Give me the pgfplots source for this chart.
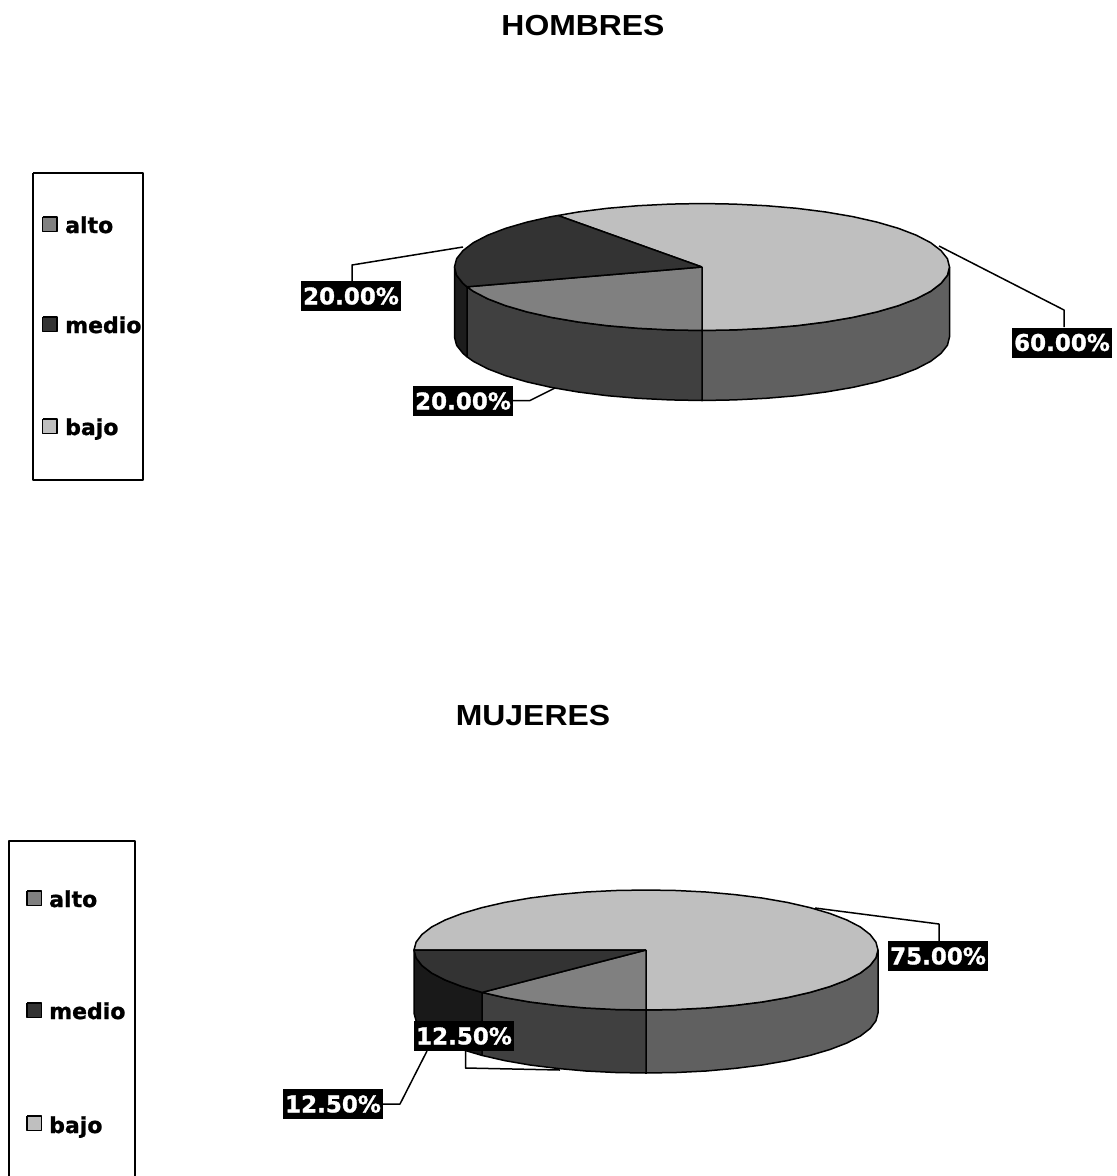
\documentclass[border=0pt]{standalone}
\usepackage{pgfplots}
\pgfplotsset{compat=1.18}
\usepackage{fontspec}
\setmainfont{DejaVu Sans}
\newfontfamily\titlefont[FakeStretch=1.1]{Liberation Sans}
\newfontfamily\heavyfont[FakeBold=1.2]{DejaVu Sans Bold}
\definecolor{sliceBajo}{HTML}{BFBFBF}
\definecolor{sliceMedio}{HTML}{333333}
\definecolor{sliceAlto}{HTML}{808080}
\definecolor{sideBajo}{HTML}{606060}
\definecolor{sideAlto}{HTML}{404040}
\definecolor{sideMedio}{HTML}{1C1C1C}
\tikzset{
  valuelabel/.style={fill=black, text=white, font=\fontsize{23}{23}\selectfont\heavyfont,
    minimum width=100pt, minimum height=30pt, inner sep=0pt},
  legendtext/.style={anchor=west, inner sep=0pt, text height=18pt, text depth=0pt,
    font=\fontsize{22}{22}\selectfont\heavyfont},
  charttitle/.style={font=\fontsize{29}{30}\selectfont\titlefont\bfseries},
}
\begin{document}
\begin{tikzpicture}
\useasboundingbox (0,0) rectangle (1117pt,1176pt);
\begin{axis}[
  scale only axis, width=1117pt, height=1176pt,
  xmin=0, xmax=1117, ymin=0, ymax=1176, y dir=reverse,
  hide axis, clip=false,
  every axis plot/.append style={line width=1.5pt, line join=round},
  cycle list={{draw=black, solid, mark=none}},
]

% ---- HOMBRES: leader lines
\addplot+[] coordinates {(463,247) (352,265) (352,281)};
\addplot+[] coordinates {(513,400.5) (530,400.5) (555,388)};
\addplot+[] coordinates {(939,246) (1064,310) (1064,327)};

% HOMBRES: rim of the disc
\addplot+[fill=sideBajo] coordinates {
 (702,330.5) (734.3,329.9) (766,328.3) (796.7,325.7) (825.8,322) (852.7,317.4) (877,311.9) (898.3,305.7)
 (916.3,298.8) (930.7,291.3) (941,283.4) (947.4,275.3) (949.5,267)
 (949.5,337) (947.4,345.3) (941,353.4) (930.7,361.3) (916.3,368.8) (898.3,375.7) (877,381.9) (852.7,387.4)
 (825.8,392) (796.7,395.7) (766,398.3) (734.3,399.9) (702,400.5) (702,330.5)};
\addplot+[fill=sideAlto] coordinates {
 (702,330.5) (669.7,329.9) (638,328.3) (607.3,325.7) (578.2,322) (551.3,317.4) (527,311.9) (505.7,305.7)
 (487.7,298.8) (473.3,291.3) (467,286.8)
 (467,356.8) (473.3,361.3) (487.7,368.8) (505.7,375.7) (527,381.9) (551.3,387.4) (578.2,392) (607.3,395.7)
 (638,398.3) (669.7,399.9) (702,400.5) (702,330.5)};
\addplot+[fill=sideMedio] coordinates {
 (467,286.8) (463,283.4) (456.6,275.3) (454.5,267)
 (454.5,337) (456.6,345.3) (463,353.4) (467,356.8) (467,286.8)};

% HOMBRES: top of the disc
\addplot+[fill=sliceBajo] coordinates {
 (702,267) (558,215.5) (578.2,212) (607.3,208.3) (638,205.7) (669.7,204.1) (702,203.5)
 (734.3,204.1) (766,205.7) (796.7,208.3) (825.8,212) (852.7,216.6) (877,222.1) (898.3,228.3)
 (916.3,235.2) (930.7,242.7) (941,250.6) (947.4,258.7) (949.5,267)
 (947.4,275.3) (941,283.4) (930.7,291.3) (916.3,298.8) (898.3,305.7) (877,311.9) (852.7,317.4)
 (825.8,322) (796.7,325.7) (766,328.3) (734.3,329.9) (702,330.5) (702,267)};
\addplot+[fill=sliceAlto] coordinates {
 (702,267) (702,330.5) (669.7,329.9) (638,328.3) (607.3,325.7) (578.2,322) (551.3,317.4) (527,311.9)
 (505.7,305.7) (487.7,298.8) (473.3,291.3) (467,286.8) (702,267)};
\addplot+[fill=sliceMedio] coordinates {
 (702,267) (467,286.8) (463,283.4) (456.6,275.3) (454.5,267) (456.6,258.7) (463,250.6) (473.3,242.7)
 (487.7,235.2) (505.7,228.3) (527,222.1) (551.3,216.6) (558,215.5) (702,267)};

% ---- MUJERES: leader lines
\addplot+[] coordinates {(815,908) (939,924) (939,941)};
\addplot+[] coordinates {(465.5,1045) (465.5,1068) (560,1070)};
\addplot+[] coordinates {(383,1104) (400,1104) (427,1051)};

% MUJERES: rim of the disc
\addplot+[fill=sideBajo] coordinates {
 (646,1010) (676.4,1009.5) (706.1,1008) (734.9,1005.4) (762,1002) (787.3,997.6) (810,992.4) (830,986.5)
 (846.9,980) (860.4,973) (870.1,965.5) (875.9,957.9) (878,950)
 (878,1013) (875.9,1020.9) (870.1,1028.5) (860.4,1036) (846.9,1043) (830,1049.5) (810,1055.4) (787.3,1060.6)
 (762,1065) (734.9,1068.4) (706.1,1071) (676.4,1072.5) (646,1073) (646,1010)};
\addplot+[fill=sideAlto] coordinates {
 (646,1010) (615.6,1009.5) (585.9,1008) (557.1,1005.4) (530,1002) (504.7,997.6) (482,992.4)
 (482,1055.4) (504.7,1060.6) (530,1065) (557.1,1068.4) (585.9,1071) (615.6,1072.5) (646,1073) (646,1010)};
\addplot+[fill=sideMedio!90!black] coordinates {
 (482,992.4) (462,986.5) (445.1,980) (431.6,973) (421.9,965.5) (416.1,957.9) (414,950)
 (414,1013) (416.1,1020.9) (421.9,1028.5) (431.6,1036) (445.1,1043) (462,1049.5) (482,1055.4) (482,992.4)};

% MUJERES: top of the disc
\addplot+[fill=sliceBajo] coordinates {
 (646,950) (414,950) (416.1,942.1) (421.9,934.5) (431.6,927) (445.1,920) (462,913.5) (482,907.6)
 (504.7,902.4) (530,898) (557.1,894.6) (585.9,892) (615.6,890.5) (646,890)
 (676.4,890.5) (706.1,892) (734.9,894.6) (762,898) (787.3,902.4) (810,907.6) (830,913.5)
 (846.9,920) (860.4,927) (870.1,934.5) (875.9,942.1) (878,950)
 (875.9,957.9) (870.1,965.5) (860.4,973) (846.9,980) (830,986.5) (810,992.4) (787.3,997.6)
 (762,1002) (734.9,1005.4) (706.1,1008) (676.4,1009.5) (646,1010) (646,950)};
\addplot+[fill=sliceAlto] coordinates {
 (646,950) (646,1010) (615.6,1009.5) (585.9,1008) (557.1,1005.4) (530,1002) (504.7,997.6) (482,992.4) (646,950)};
\addplot+[fill=sliceMedio] coordinates {
 (646,950) (482,992.4) (462,986.5) (445.1,980) (431.6,973) (421.9,965.5) (416.1,957.9) (414,950) (646,950)};

% ---- legend frames
\addplot+[] coordinates {(33,173) (143,173) (143,480) (33,480) (33,173)};
\addplot+[] coordinates {(9,1176) (9,841) (135,841) (135,1176)};

% ---- legend swatches
\addplot+[fill=sliceAlto]  coordinates {(42.5,217) (57,217) (57,231.5) (42.5,231.5) (42.5,217)};
\addplot+[fill=sliceMedio] coordinates {(42.5,317) (57,317) (57,331.5) (42.5,331.5) (42.5,317)};
\addplot+[fill=sliceBajo]  coordinates {(42.5,419) (57,419) (57,433.5) (42.5,433.5) (42.5,419)};
\addplot+[fill=sliceAlto]  coordinates {(27,891) (41.5,891) (41.5,905.5) (27,905.5) (27,891)};
\addplot+[fill=sliceMedio] coordinates {(27,1003) (41.5,1003) (41.5,1017.5) (27,1017.5) (27,1003)};
\addplot+[fill=sliceBajo]  coordinates {(27,1116) (41.5,1116) (41.5,1130.5) (27,1130.5) (27,1116)};

\node[legendtext] at (axis cs:65,224) {alto};
\node[legendtext] at (axis cs:65,324) {medio};
\node[legendtext] at (axis cs:65,426) {bajo};
\node[legendtext] at (axis cs:49,898) {alto};
\node[legendtext] at (axis cs:49,1010) {medio};
\node[legendtext] at (axis cs:49,1124) {bajo};

% ---- titles
\node[charttitle] at (axis cs:583,26) {HOMBRES};
\node[charttitle] at (axis cs:533,716) {MUJERES};

% ---- value labels
\node[valuelabel] at (axis cs:351,296) {20.00\%};
\node[valuelabel] at (axis cs:463,401) {20.00\%};
\node[valuelabel] at (axis cs:1062,342.5) {60.00\%};
\node[valuelabel] at (axis cs:938,956) {75.00\%};
\node[valuelabel] at (axis cs:464,1036) {12.50\%};
\node[valuelabel] at (axis cs:333,1104) {12.50\%};
\end{axis}
\end{tikzpicture}
\end{document}
